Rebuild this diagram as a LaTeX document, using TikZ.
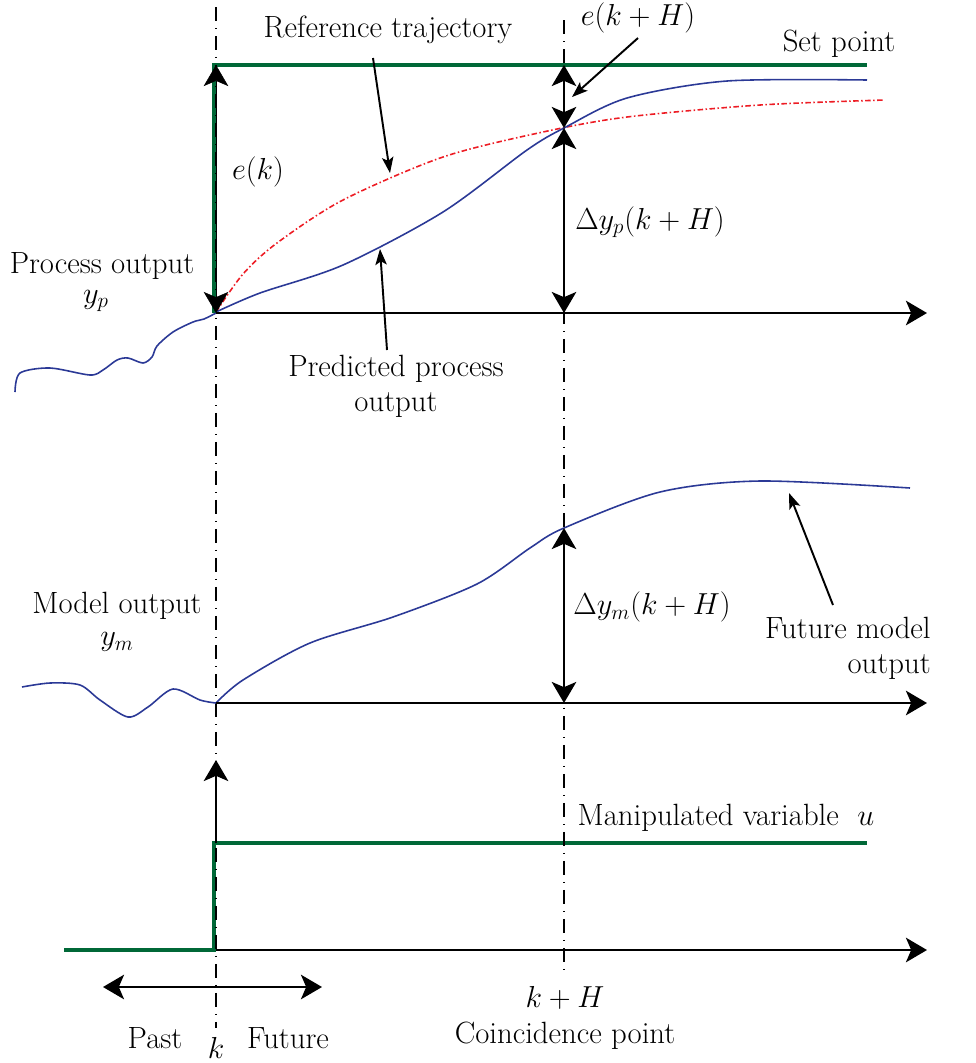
\documentclass[tikz,border=0pt]{standalone}
\usetikzlibrary{arrows.meta}
\definecolor{spgreen}{RGB}{0,104,55}
\definecolor{cblue}{RGB}{43,57,150}
\definecolor{cred}{RGB}{237,28,36}
\begin{document}
\begin{tikzpicture}[x=0.02cm,y=-0.02cm,
  font=\fontsize{17.5}{20}\selectfont,
  bigtip/.tip={Stealth[length=12pt,width=14pt,inset=3pt]},
  smalltip/.tip={Stealth[length=9pt,width=6.5pt,inset=2pt]},
  guide/.style={black, line width=1pt, dash pattern=on 2.8mm off 1.4mm on 0.2mm off 1.4mm},
  axisline/.style={black, line width=1.1pt, -bigtip},
  dblarrow/.style={black, line width=1.1pt, bigtip-bigtip},
  pointer/.style={black, line width=1.1pt, -smalltip},
  greenline/.style={spgreen, line width=2.4pt},
  bluecurve/.style={cblue, line width=0.9pt},
  redcurve/.style={cred, line width=0.9pt, dash pattern=on 1.1mm off 0.5mm on 0.3mm off 0.5mm},
  lbl/.style={inner sep=0pt}
]
\useasboundingbox (0,0) rectangle (975,1063);

% coordinates
\coordinate (kTop) at (216,7);
\coordinate (kBot) at (216,1028);
\coordinate (hTop) at (564,20);
\coordinate (hBot) at (564,972);
\coordinate (o1) at (216,313);
\coordinate (o1end) at (927,313);
\coordinate (o2) at (216,703);
\coordinate (o2end) at (927,703);
\coordinate (o3) at (216,950);
\coordinate (o3end) at (927,950);
\coordinate (sp0) at (214,313);
\coordinate (sp1) at (214,65);
\coordinate (sp2) at (867,65);
\coordinate (ekTop) at (216,65);
\coordinate (hSet) at (564,65);
\coordinate (hCross) at (564,128);
\coordinate (hAx1) at (564,313);
\coordinate (hModel) at (564,528);
\coordinate (hAx2) at (564,703);
\coordinate (u0) at (64,950);
\coordinate (u1) at (214,950);
\coordinate (u2) at (214,843);
\coordinate (u3) at (867,843);
\coordinate (uBase) at (216,843);
\coordinate (uTip) at (216,760);
\coordinate (pastTip) at (103,987);
\coordinate (futTip) at (322,987);

% labels
\node[lbl] (reftxt) at (388,30) {Reference trajectory};
\node[lbl] (setpt) at (839,44) {Set point};
\node[lbl] (ekH) at (638,18) {$e(k+H)$};
\node[lbl] (ek) at (258,172) {$e(k)$};
\node[lbl] (dyp) at (650,222) {$\Delta y_p(k+H)$};
\node[lbl] (proc) at (102,266) {Process output};
\node[lbl] (procy) at (96,301) {$y_p$};
\node[lbl, align=center] (pred) at (396,386) {Predicted process\\output};
\node[lbl] (model) at (117,606) {Model output};
\node[lbl] (modely) at (117,642) {$y_m$};
\node[lbl] (dym) at (652,607) {$\Delta y_m(k+H)$};
\node[lbl, align=right, anchor=east] (fut) at (931,648) {Future model\\output};
\node[lbl] (manip) at (726,818) {Manipulated variable~~$u$};
\node[lbl] (kH) at (565,998) {$k+H$};
\node[lbl] (coinc) at (565,1036) {Coincidence point};
\node[lbl] (past) at (155,1038) {Past};
\node[lbl] (future) at (288,1038) {Future};
\node[lbl] (klbl) at (216,1048) {$k$};

% pointer coordinates
\coordinate (refA) at (373,58);
\coordinate (refB) at (390,173);
\coordinate (ekhA) at (638,38);
\coordinate (ekhB) at (572,97);
\coordinate (predA) at (387,350);
\coordinate (predB) at (380,249);
\coordinate (futA) at (833,605);
\coordinate (futB) at (789,493);

% green set point and input
\draw[greenline] (sp0) -- (sp1) -- (sp2);
\draw[greenline] (u0) -- (u1) -- (u2) -- (u3);

% guide lines
\draw[guide] (kTop) -- (kBot);
\draw[guide] (hTop) -- (hBot);

% curves
\draw[redcurve] plot[smooth] coordinates {(216,312) (243,274) (277,243) (343,200) (443,157) (543,132) (627,117) (760,105) (885,100)};
\draw[bluecurve] plot[smooth] coordinates {(15,392) (20,373) (50,368) (90,375) (103,370) (117,360) (128,358) (143,363) (152,357) (157,346) (173,332) (193,322) (204,319) (216,313)};
\draw[bluecurve] plot[smooth] coordinates {(216,312) (260,293) (343,265) (443,212) (527,150) (564,128) (627,98) (727,81) (867,80)};
\draw[bluecurve] plot[smooth] coordinates {(22,687) (50,683) (80,685) (100,700) (128,717) (148,707) (173,689) (200,700) (216,703)};
\draw[bluecurve] plot[smooth] coordinates {(216,703) (243,680) (310,643) (393,617) (477,584) (530,548) (564,528) (660,492) (760,481) (910,488)};

% axes
\draw[axisline] (o1) -- (o1end);
\draw[axisline] (o2) -- (o2end);
\draw[axisline] (o3) -- (o3end);
\draw[black, line width=1.1pt, -bigtip] (uBase) -- (uTip);

% double arrows
\draw[black, line width=0.3pt, bigtip-bigtip] (ekTop) -- (o1);
\draw[dblarrow] (hSet) -- (hCross);
\draw[dblarrow] (hCross) -- (hAx1);
\draw[dblarrow] (hModel) -- (hAx2);
\draw[dblarrow] (pastTip) -- (futTip);

% pointers
\draw[pointer] (refA) -- (refB);
\draw[pointer] (ekhA) -- (ekhB);
\draw[pointer] (predA) -- (predB);
\draw[pointer] (futA) -- (futB);
\end{tikzpicture}
\end{document}
